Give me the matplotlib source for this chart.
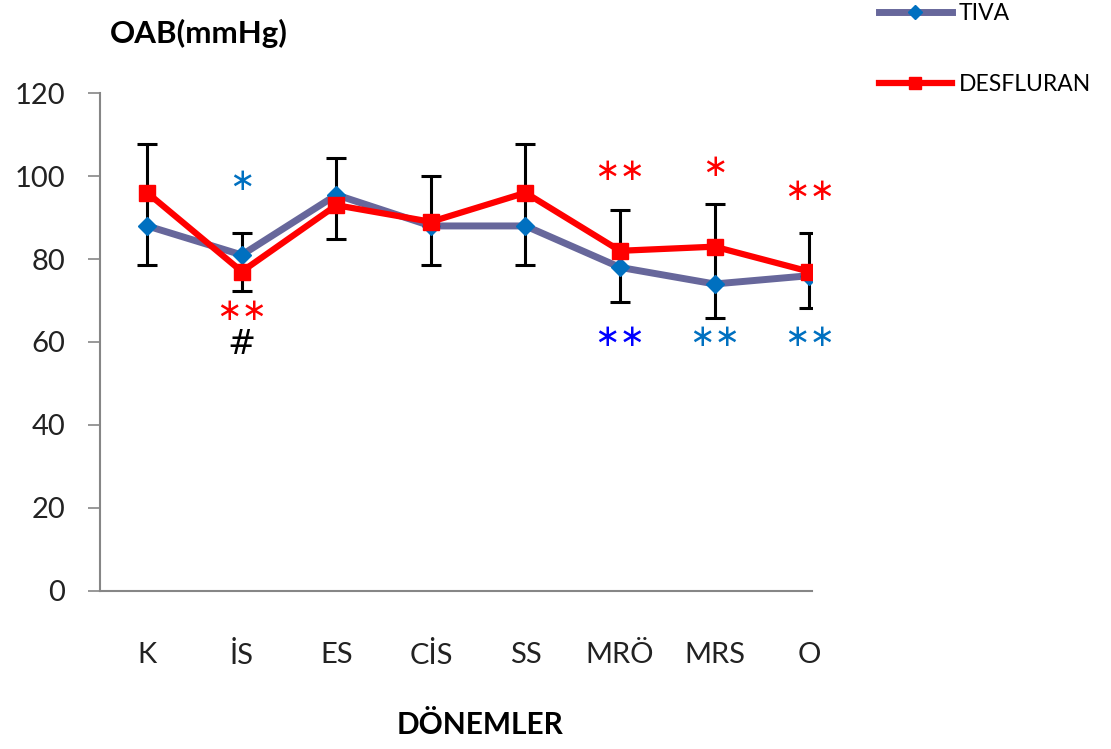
import matplotlib
matplotlib.use('Agg')
import matplotlib.pyplot as plt
import numpy as np

# data
periods = ['K', 'İS', 'ES', 'CİS', 'SS', 'MRÖ', 'MRS', 'O']
tiva = [88, 81, 95.5, 88, 88, 78, 74, 76]
desfluran = [96, 77, 93, 89, 96, 82, 83, 77]
err_high = [107.8, 86.2, 104.3, 100, 107.8, 91.8, 93.3, 86.2]
err_low = [78.6, 72.4, 84.9, 78.6, 78.6, 69.7, 65.7, 68.1]

# significance marks: (period index, y value, text, colour)
marks = [
    (1, 98.7, '∗', '#0070C0'),
    (1, 67.3, '∗∗', '#FF0000'),
    (1, 59.3, '#', 'black'),
    (5, 101.1, '∗∗', '#FF0000'),
    (5, 61.0, '∗∗', '#0000FF'),
    (6, 102.0, '∗', '#FF0000'),
    (6, 61.0, '∗∗', '#0070C0'),
    (7, 96.3, '∗∗', '#FF0000'),
    (7, 61.0, '∗∗', '#0070C0'),
]

plt.rcParams['font.family'] = ['Lato', 'DejaVu Sans']

fig = plt.figure(figsize=(11.11, 7.49), dpi=100)
ax = fig.add_axes([100 / 1111, 1 - 590.7 / 749, 712 / 1111, 497.4 / 749])

x = np.arange(len(periods))
tv = np.array(tiva)
ax.errorbar(x, tv, yerr=[tv - np.array(err_low), np.array(err_high) - tv],
            fmt='none', ecolor='black', elinewidth=2.2, capsize=7, capthick=2.2, zorder=2)
ax.plot(x, tiva, color='#67679B', lw=5, marker='D', ms=9, mfc='#0070C0', mec='#0070C0',
        label='TIVA', zorder=3)
ax.plot(x, desfluran, color='#FF0000', lw=4.5, marker='s', ms=11, mfc='#FF0000', mec='#FF0000',
        label='DESFLURAN', zorder=4)

for i, yv, txt, col in marks:
    ax.text(i, yv, txt, color=col, fontsize=22 if txt != '#' else 24,
            family='DejaVu Sans', ha='center', va='center', zorder=5)

ax.set_xlim(-0.5, 7.03)
ax.set_ylim(0, 120)
ax.set_yticks(np.arange(0, 121, 20))
ax.set_xticks(x)
ax.set_xticklabels(periods)
ax.tick_params(axis='y', direction='out', length=9, width=1.2, color='#868686',
               labelsize=21, pad=16, labelcolor='#222222')
ax.tick_params(axis='x', length=0, labelsize=21, pad=37, labelcolor='#222222')
for s in ['top', 'right']:
    ax.spines[s].set_visible(False)
for s in ['left', 'bottom']:
    ax.spines[s].set_color('#868686')
    ax.spines[s].set_linewidth(1.5)

fig.text(110 / 1111, 1 - 33 / 749, 'OAB(mmHg)', fontsize=22.5, fontweight='bold',
         ha='left', va='center')
fig.text(480 / 1111, 1 - 725 / 749, 'DÖNEMLER', fontsize=21.5, fontweight='bold',
         ha='center', va='center')

fig.legend(loc='upper left', bbox_to_anchor=(858 / 1111, 1.024), frameon=False,
           fontsize=16.5, handlelength=3.2, handletextpad=0.3, labelspacing=2.2,
           markerscale=0.8)

plt.savefig('out.png', dpi=100)
